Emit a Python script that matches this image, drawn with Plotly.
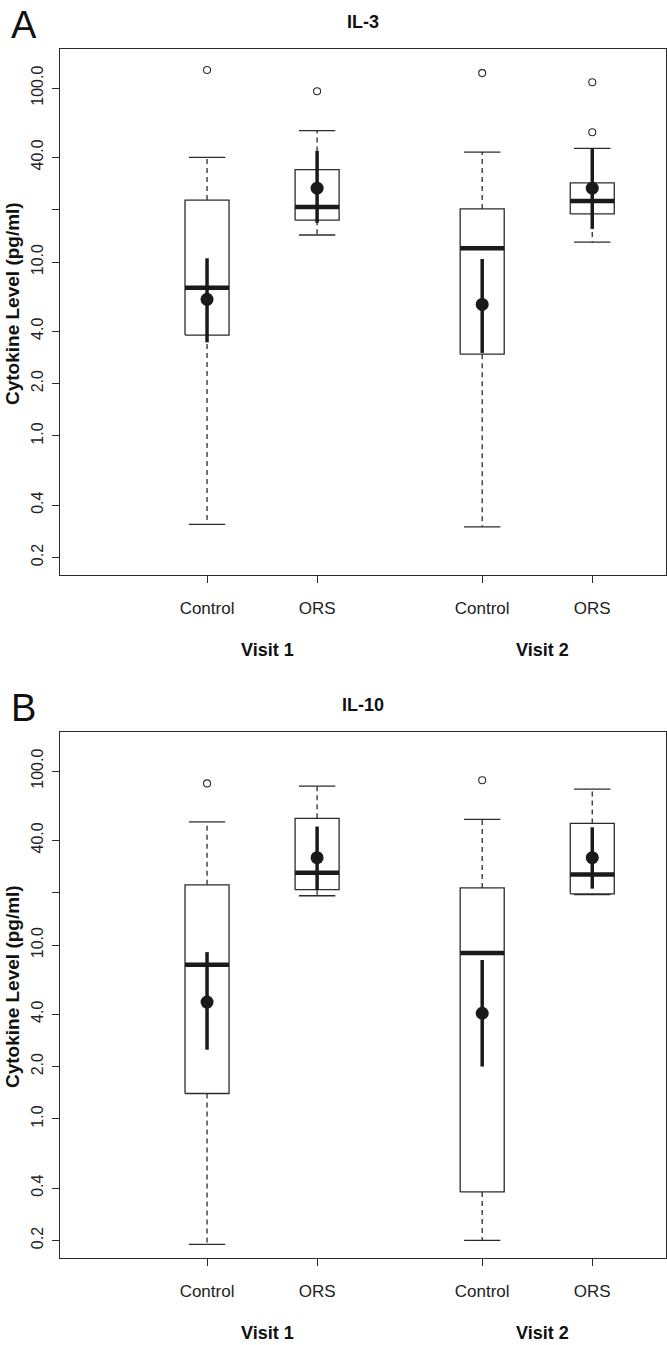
import plotly.graph_objects as go

# ---------------------------
# DATA (pg/ml)
# ---------------------------

groups = ["Control", "ORS", "Control", "ORS"]
visits = ["Visit 1", "Visit 2"]

# IL-3
il3_low = [0.31, 14.3, 0.30, 13.0]      # lower whisker
il3_q1 = [3.8, 17.4, 2.95, 18.9]
il3_med = [7.1, 20.7, 12.0, 22.4]
il3_q3 = [22.7, 34.0, 20.2, 28.5]
il3_high = [40.0, 57.0, 42.9, 45.0]
il3_mean = [6.1, 26.6, 5.7, 26.6]
il3_ci_lo = [3.45, 16.8, 3.0, 15.5]
il3_ci_hi = [10.5, 43.5, 10.4, 45.0]
il3_out = [[127], [96], [122], [108, 55.8]]

# IL-10
il10_low = [0.19, 19.2, 0.20, 19.5]
il10_q1 = [1.4, 20.8, 0.38, 19.7]
il10_med = [7.7, 26.0, 9.0, 25.4]
il10_q3 = [22.2, 53.5, 21.3, 50.0]
il10_high = [51.0, 82.0, 52.8, 78.7]
il10_mean = [4.7, 31.8, 4.05, 31.8]
il10_ci_lo = [2.5, 20.8, 2.0, 21.1]
il10_ci_hi = [9.1, 48.0, 8.2, 47.5]
il10_out = [[85], [], [88.7], []]

tick_vals = [0.2, 0.4, 1.0, 2.0, 4.0, 10.0, 20.0, 40.0, 100.0]
tick_text = ["0.2", "0.4", "1.0", "2.0", "4.0", "10.0", "", "40.0", "100.0"]

# ---------------------------
# LAYOUT HELPERS
# ---------------------------

W, H = 667, 1345
pos = [1, 2, 3.5, 4.5]
half = 0.2       # half box width
cap = 0.165      # half whisker cap width
dark = "#2b2b2b"
FONT = "Liberation Sans, Arial, sans-serif"

fig = go.Figure()


def add_panel(xa, ya, low, q1, med, q3, high, mean, ci_lo, ci_hi, out):
    for i, p in enumerate(pos):
        kw = dict(xaxis=xa, yaxis=ya, showlegend=False, hoverinfo="skip")
        # whiskers (dashed)
        fig.add_trace(go.Scatter(x=[p, p, None, p, p], y=[q3[i], high[i], None, q1[i], low[i]],
                                 mode="lines", line=dict(color=dark, width=1.3, dash="5px,4px"), **kw))
        # caps
        fig.add_trace(go.Scatter(x=[p - cap, p + cap, None, p - cap, p + cap],
                                 y=[high[i], high[i], None, low[i], low[i]],
                                 mode="lines", line=dict(color=dark, width=1.3), **kw))
        # box
        fig.add_trace(go.Scatter(x=[p - half, p + half, p + half, p - half, p - half],
                                 y=[q1[i], q1[i], q3[i], q3[i], q1[i]],
                                 mode="lines", line=dict(color=dark, width=1.3), **kw))
        # median
        fig.add_trace(go.Scatter(x=[p - half, p + half], y=[med[i], med[i]],
                                 mode="lines", line=dict(color="#1a1a1a", width=4.5), **kw))
        # outliers
        if out[i]:
            fig.add_trace(go.Scatter(x=[p] * len(out[i]), y=out[i], mode="markers",
                                     marker=dict(symbol="circle-open", size=7, color=dark,
                                                 line=dict(width=1.1)), **kw))
        # mean with interval
        fig.add_trace(go.Scatter(x=[p, p], y=[ci_lo[i], ci_hi[i]], mode="lines",
                                 line=dict(color="#1a1a1a", width=3.5), **kw))
        fig.add_trace(go.Scatter(x=[p], y=[mean[i]], mode="markers",
                                 marker=dict(size=13, color="#1a1a1a"), **kw))


add_panel("x", "y", il3_low, il3_q1, il3_med, il3_q3, il3_high, il3_mean, il3_ci_lo, il3_ci_hi, il3_out)
add_panel("x2", "y2", il10_low, il10_q1, il10_med, il10_q3, il10_high, il10_mean, il10_ci_lo, il10_ci_hi, il10_out)

# pixel boxes of the two panels
x0, x1 = 60, 666
panels = [(49, 575), (732, 1258)]


def py(px):
    return 1 - px / H


xax = dict(domain=[x0 / W, x1 / W], range=[-0.336, 5.17], tickvals=pos, ticktext=groups,
           ticks="outside", ticklen=7, tickcolor=dark, tickwidth=1.2,
           showline=True, mirror=True, linecolor=dark, linewidth=1.3,
           showgrid=False, zeroline=False, ticklabelstandoff=10,
           tickfont=dict(family=FONT, size=17, color="#222"))
yax = dict(type="log", range=[-0.80, 2.225], tickvals=tick_vals, ticktext=tick_text,
           tickangle=-90, ticks="outside", ticklen=7, tickcolor=dark, tickwidth=1.2,
           showline=True, mirror=True, linecolor=dark, linewidth=1.3,
           showgrid=False, zeroline=False, ticklabelstandoff=2,
           tickfont=dict(family=FONT, size=16, color="#222"))

fig.update_layout(
    width=W, height=H,
    margin=dict(l=0, r=0, t=0, b=0),
    paper_bgcolor="white", plot_bgcolor="white",
    xaxis=dict(xax, anchor="y"),
    xaxis2=dict(xax, anchor="y2"),
    yaxis=dict(yax, domain=[py(panels[0][1]), py(panels[0][0])], anchor="x"),
    yaxis2=dict(yax, domain=[py(panels[1][1]), py(panels[1][0])], anchor="x2"),
)

ann = []
mid = dict(xanchor="center", yanchor="middle", showarrow=False)
for k, (letter, title) in enumerate([("A", "IL-3"), ("B", "IL-10")]):
    top, bot = panels[k]
    ann.append(dict(text=letter, x=24 / W, y=py(top - 47), xref="paper", yref="paper",
                    xanchor="center", yanchor="top", showarrow=False,
                    font=dict(family=FONT, size=38, color="#111")))
    ann.append(dict(text="<b>" + title + "</b>", x=(x0 + x1) / 2 / W, y=py(top - 27),
                    xref="paper", yref="paper",
                    font=dict(family=FONT, size=18, color="#111"), **mid))
    ann.append(dict(text="<b>Cytokine Level (pg/ml)</b>", x=12 / W, y=py((top + bot) / 2 - 8),
                    xref="paper", yref="paper", textangle=-90,
                    font=dict(family=FONT, size=19, color="#111"), **mid))
    xr = "x" if k == 0 else "x2"
    for j, v in enumerate(visits):
        ann.append(dict(text="<b>" + v + "</b>", x=(pos[2 * j] + pos[2 * j + 1]) / 2 + 0.05,
                        y=py(bot + 75), xref=xr, yref="paper",
                        font=dict(family=FONT, size=18, color="#111"), **mid))

fig.update_layout(annotations=ann)

# the page's default body margin would shift the figure; remove it
fig.write_html("out.html", config={"displayModeBar": False},
               post_script="document.body.style.margin='0';")
